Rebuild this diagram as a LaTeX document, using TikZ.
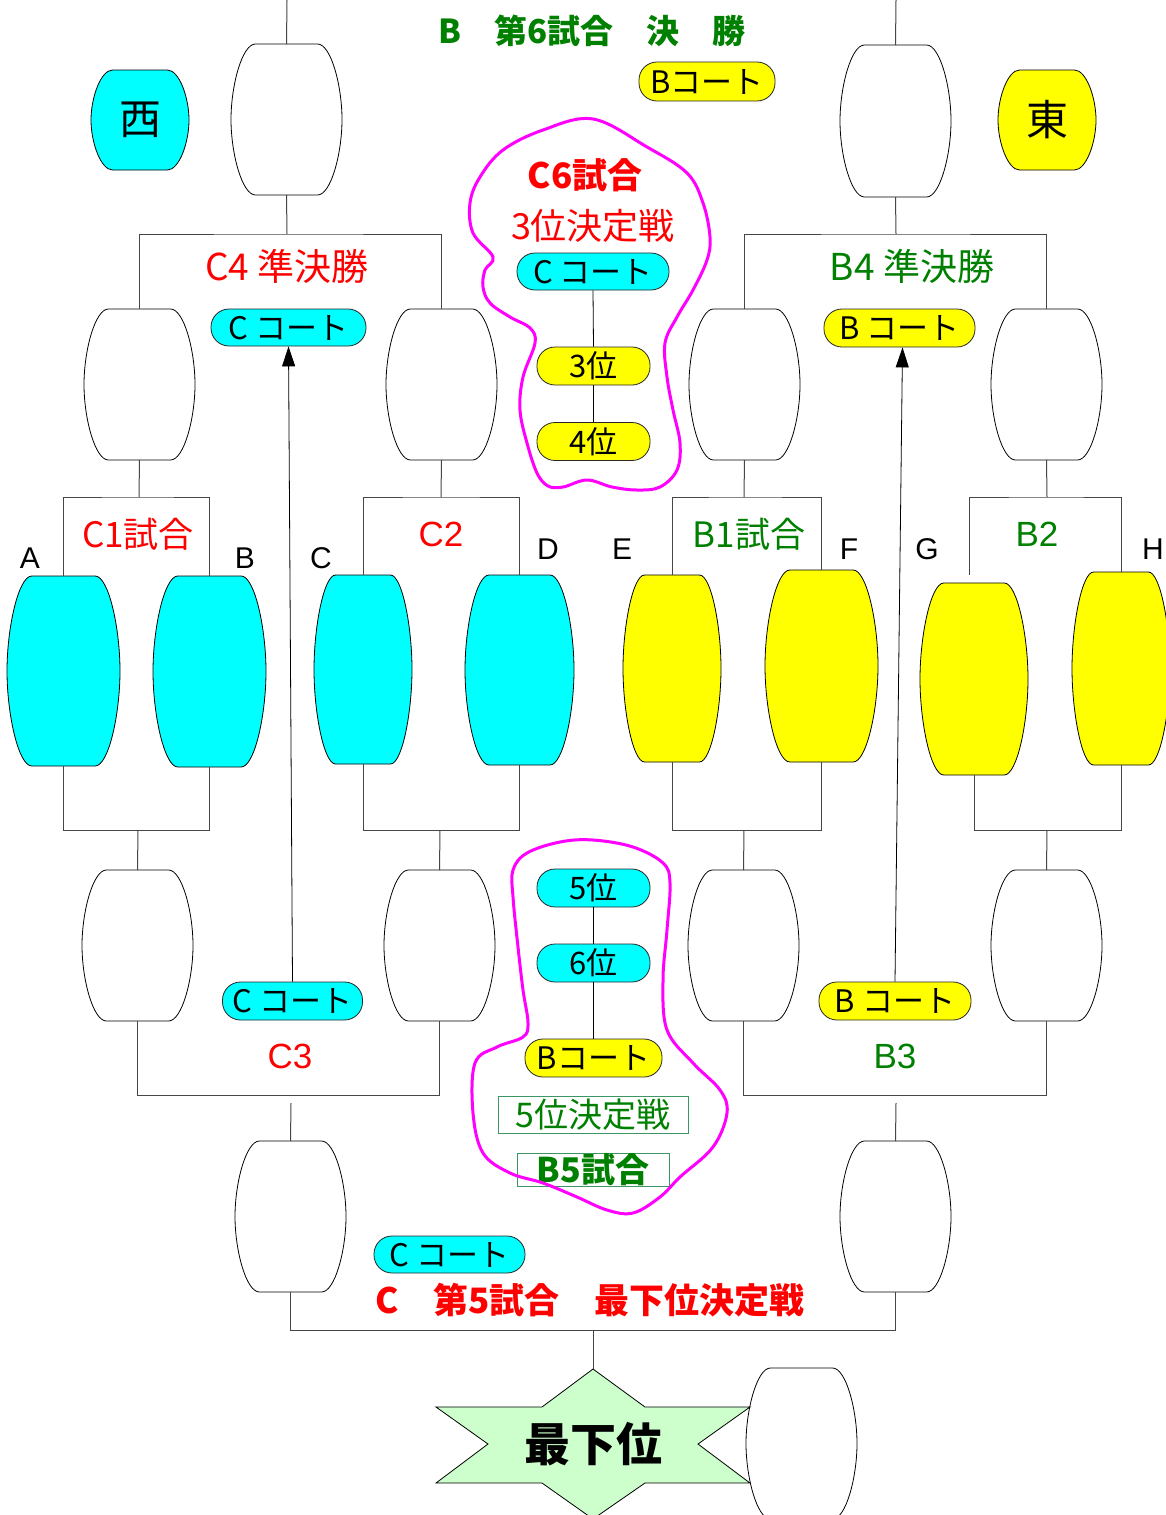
\documentclass[tikz,border=0pt]{standalone}
\usepackage{fontspec}
\setmainfont{Noto Sans CJK JP}
\newfontfamily\lat{Liberation Sans}
\usetikzlibrary{arrows.meta}
\definecolor{cy}{RGB}{0,255,255}
\definecolor{ye}{RGB}{255,255,0}
\definecolor{gr}{RGB}{0,128,0}
\definecolor{rd}{RGB}{255,0,0}
\definecolor{mg}{RGB}{255,0,255}
\definecolor{lg}{RGB}{204,255,204}
\definecolor{bx}{RGB}{60,150,100}
\definecolor{ln}{RGB}{70,70,70}
\newcommand\fs[1]{\fontsize{#1}{#1}\selectfont}
% name, cx, cy, half width, half height, fill, text
\newcommand\mybarrel[7]{%
 \draw[line width=0.8pt, fill=#6, shift={(#2,#3)}, xscale=#4, yscale=#5]
  (-0.56,-1) -- (0.56,-1) .. controls (0.80,-1) and (1,-0.45) .. (1,0)
  .. controls (1,0.45) and (0.80,1) .. (0.56,1) -- (-0.56,1)
  .. controls (-0.80,1) and (-1,0.45) .. (-1,0)
  .. controls (-1,-0.45) and (-0.80,-1) .. (-0.56,-1) -- cycle;
 \node[inner sep=0pt, outer sep=0pt, minimum width={2*#4pt}, minimum height={2*#5pt}, font=\fs{42}] (#1) at (#2,#3) {#7};}
\tikzset{
 conn/.style={draw=ln, line width=1pt},
 pill/.style={draw=black!85, line width=0.8pt, rounded corners=18pt, minimum height=37pt, inner sep=0pt, font=\fs{31}},
 lbl/.style={inner sep=0pt, font=\fs{36}},
 letter/.style={inner sep=0pt, font=\lat\fs{30}},
 blob/.style={draw=mg, line width=3pt},
 tbox/.style={draw=bx, line width=0.8pt, inner sep=0pt, text=gr, font=\fs{34}}
}
\begin{document}
\begin{tikzpicture}[x=1pt,y=-1pt]
\useasboundingbox (0,0) rectangle (1166,1515);
\clip (0,0) rectangle (1166,1515);
\fill[white] (0,0) rectangle (1166,1515);

% ---------- barrels ----------
\mybarrel{tl}{286.5}{119.5}{55.5}{75.5}{white}{}
\mybarrel{tr}{895.5}{121}{55.5}{76}{white}{}
\mybarrel{west}{140}{120}{49}{50}{cy}{西}
\mybarrel{east}{1047}{120}{49}{50}{ye}{東}
\mybarrel{c4a}{139.5}{384.5}{55.5}{75.5}{white}{}
\mybarrel{c4b}{441.5}{384.5}{55.5}{75.5}{white}{}
\mybarrel{b4a}{744.5}{384.5}{55.5}{75.5}{white}{}
\mybarrel{b4b}{1046.5}{384.5}{55.5}{75.5}{white}{}
\mybarrel{pA}{63.5}{671}{56.5}{95}{cy}{}
\mybarrel{pB}{209.5}{671.5}{56.5}{95.5}{cy}{}
\mybarrel{pC}{363}{669.5}{49}{94.5}{cy}{}
\mybarrel{pD}{519.5}{670}{54.5}{95}{cy}{}
\mybarrel{pE}{672}{668.5}{49}{93.5}{ye}{}
\mybarrel{pF}{821.5}{666}{56.5}{96}{ye}{}
\mybarrel{pG}{974}{679}{54}{96}{ye}{}
\mybarrel{pH}{1121}{668.5}{49}{96.5}{ye}{}
\mybarrel{c3a}{137.5}{945.5}{55.5}{75.5}{white}{}
\mybarrel{c3b}{439.5}{945.5}{55.5}{75.5}{white}{}
\mybarrel{b3a}{743.5}{945.5}{55.5}{75.5}{white}{}
\mybarrel{b3b}{1046.5}{945.5}{55.5}{75.5}{white}{}
\mybarrel{fa}{290.5}{1216.5}{55.5}{75.5}{white}{}
\mybarrel{fb}{895.5}{1216.5}{55.5}{75.5}{white}{}
\mybarrel{last}{801.5}{1443.5}{55.5}{75.5}{white}{}

% ---------- junction coordinates ----------
\coordinate (topL) at (287,0);
\coordinate (topR) at (896,0);
\coordinate (jc4) at (287,234);
\coordinate (jb4) at (896,234);
\coordinate (j1) at (139,497);
\coordinate (j2) at (441,497);
\coordinate (j3) at (744,497);
\coordinate (j4) at (1047,497);
\coordinate (gtop) at (969,575);
\coordinate (k1) at (138,830);
\coordinate (k2) at (440,830);
\coordinate (k3) at (744,830);
\coordinate (k4) at (1047,830);
\coordinate (m1) at (289,1095);
\coordinate (m2) at (895,1095);
\coordinate (m1g) at (291,1103);
\coordinate (m2g) at (896,1103);
\coordinate (n1) at (593,1330);
\coordinate (startop) at (593,1369);

% ---------- bracket connectors ----------
\draw[conn] (topL) -- (tl.north);
\draw[conn] (topR) -- (tr.north);
\draw[conn] (tl.south) -- (jc4);
\draw[conn] (tr.south) -- (jb4);
\draw[conn] (c4a.north) |- (jc4) -| (c4b.north);
\draw[conn] (b4a.north) |- (jb4) -| (b4b.north);
\draw[conn] (c4a.south) -- (j1);
\draw[conn] (c4b.south) -- (j2);
\draw[conn] (b4a.south) -- (j3);
\draw[conn] (b4b.south) -- (j4);
\draw[conn] (pA.north) |- (j1) -| (pB.north);
\draw[conn] (pC.north) |- (j2) -| (pD.north);
\draw[conn] (pE.north) |- (j3) -| (pF.north);
\draw[conn] (gtop) |- (j4) -| (pH.north);
\draw[conn] (pA.south) |- (k1) -| (pB.south);
\draw[conn] (pC.south) |- (k2) -| (pD.south);
\draw[conn] (pE.south) |- (k3) -| (pF.south);
\draw[conn] (pG.south) |- (k4) -| (pH.south);
\draw[conn] (k1) -- (c3a.north);
\draw[conn] (k2) -- (c3b.north);
\draw[conn] (k3) -- (b3a.north);
\draw[conn] (k4) -- (b3b.north);
\draw[conn] (c3a.south) |- (m1) -| (c3b.south);
\draw[conn] (b3a.south) |- (m2) -| (b3b.south);
\draw[conn] (m1g) -- (fa.north);
\draw[conn] (m2g) -- (fb.north);
\draw[conn] (fa.south) |- (n1) -| (fb.south);
\draw[conn] (n1) -- (startop);

% ---------- star ----------
\draw[line width=0.8pt, fill=lg] (startop) -- (542,1407) -- (436,1407) -- (488,1444) -- (436,1483) -- (542,1483) -- (593,1519) -- (645,1483) -- (750,1483) -- (698,1444) -- (750,1407) -- (645,1407) -- cycle;
\node[inner sep=0pt, font=\bfseries\fs{46}] (lastpl) at (593,1444) {最下位};

% ---------- court pills ----------
\node[pill, fill=ye, minimum width=136pt, minimum height=39pt] (bct) at (707,81.5) {Bコート};
\node[pill, fill=cy, minimum width=152pt] (c6ct) at (593,271.5) {C コート};
\node[pill, fill=ye, minimum width=113pt, minimum height=38pt] (p3) at (593.5,366) {3位};
\node[pill, fill=ye, minimum width=113pt, minimum height=38pt] (p4) at (593.5,441.5) {4位};
\node[pill, fill=cy, minimum width=155pt] (c4ct) at (288.5,327.5) {C コート};
\node[pill, fill=ye, minimum width=151pt, minimum height=38pt] (b4ct) at (899.5,328) {B コート};
\node[pill, fill=cy, minimum width=140pt, minimum height=38pt] (c3ct) at (292.5,1001) {C コート};
\node[pill, fill=ye, minimum width=152pt, minimum height=38pt] (b3ct) at (895,1001) {B コート};
\node[pill, fill=cy, minimum width=113pt, minimum height=38pt] (p5) at (593.5,888) {5位};
\node[pill, fill=cy, minimum width=113pt, minimum height=38pt] (p6) at (593.5,963) {6位};
\node[pill, fill=ye, minimum width=137pt, minimum height=38pt] (bct2) at (593.5,1058) {Bコート};
\node[pill, fill=cy, minimum width=151pt] (c5ct) at (449.5,1254.5) {C コート};

\draw[line width=0.8pt] (c6ct.south) -- (p3.north);
\draw[line width=0.8pt] (p3.south) -- (p4.north);
\draw[line width=0.8pt] (p5.south) -- (p6.north);
\draw[line width=0.8pt] (p6.south) -- (bct2.north);
\draw[line width=0.8pt, -{Triangle[length=20pt,width=13pt]}] (c3ct.north) -- (c4ct.south);
\draw[line width=0.8pt, -{Triangle[length=20pt,width=13pt]}] (b3ct.north) -- ([xshift=3pt]b4ct.south);

% ---------- text boxes ----------
\node[tbox, minimum width=190pt, minimum height=37pt] (b5d) at (593,1114.5) {5位決定戦};
\node[tbox, minimum width=152pt, minimum height=33pt, font=\bfseries\fs{34}] (b5s) at (593,1169.5) {B5試合};

% ---------- labels ----------
\node[lbl, text=gr, font=\bfseries\fs{33}] (title) at (592,31) {B　第6試合　決　勝};
\node[lbl, text=rd, font=\bfseries\fs{35}] (c6t) at (585,175) {C6試合};
\node[lbl, text=rd] (c6d) at (593,226) {3位決定戦};
\node[lbl, text=rd, font=\fs{37}] (c4t) at (287,266) {C4 準決勝};
\node[lbl, text=gr, font=\fs{37}] (b4t) at (912,266) {B4 準決勝};
\node[lbl, text=rd, font=\fs{35}] (c1t) at (138,534) {C1試合};
\node[lbl, text=rd, font=\lat\fs{35}] (c2t) at (441,534) {C2};
\node[lbl, text=gr, font=\fs{35}] (b1t) at (749,534) {B1試合};
\node[lbl, text=gr, font=\lat\fs{35}] (b2t) at (1037,534) {B2};
\node[lbl, text=rd, font=\lat\fs{35}] (c3t) at (290,1056) {C3};
\node[lbl, text=gr, font=\lat\fs{35}] (b3t) at (895,1056) {B3};
\node[lbl, text=rd, font=\bfseries\fs{35}] (c5t) at (590,1300) {C　第5試合　最下位決定戦};
\node[letter] (lA) at (30,558) {A};
\node[letter] (lB) at (245,558) {B};
\node[letter] (lC) at (321,558) {C};
\node[letter] (lD) at (548,549) {D};
\node[letter] (lE) at (622,549) {E};
\node[letter] (lF) at (849,549) {F};
\node[letter] (lG) at (927,549) {G};
\node[letter] (lH) at (1153,549) {H};

% ---------- magenta outlines ----------
\draw[blob] plot[smooth cycle, tension=0.6] coordinates {
 (593,119) (647,147) (687,173) (703,203) (710,237) (707,260) (693,290) (677,317)
 (665,343) (667,377) (673,410) (680,443) (677,470) (660,487) (637,490) (612,487)
 (587,480) (563,487) (548,486) (537,473) (527,443) (520,410) (523,377) (535,343)
 (530,328) (510,317) (490,303) (483,287) (485,270) (493,257) (473,233) (470,203)
 (480,177) (503,150) (543,130)};
\draw[blob] plot[smooth cycle, tension=0.6] coordinates {
 (593,840) (633,847) (663,863) (670,883) (667,930) (663,980) (667,1030) (693,1063)
 (720,1090) (727,1113) (713,1147) (680,1177) (660,1197) (633,1213) (607,1210)
 (577,1197) (543,1183) (510,1173) (483,1153) (473,1113) (475,1063) (497,1047)
 (523,1037) (528,1023) (523,990) (518,947) (513,897) (513,870) (527,853) (560,842)};
\end{tikzpicture}
\end{document}
